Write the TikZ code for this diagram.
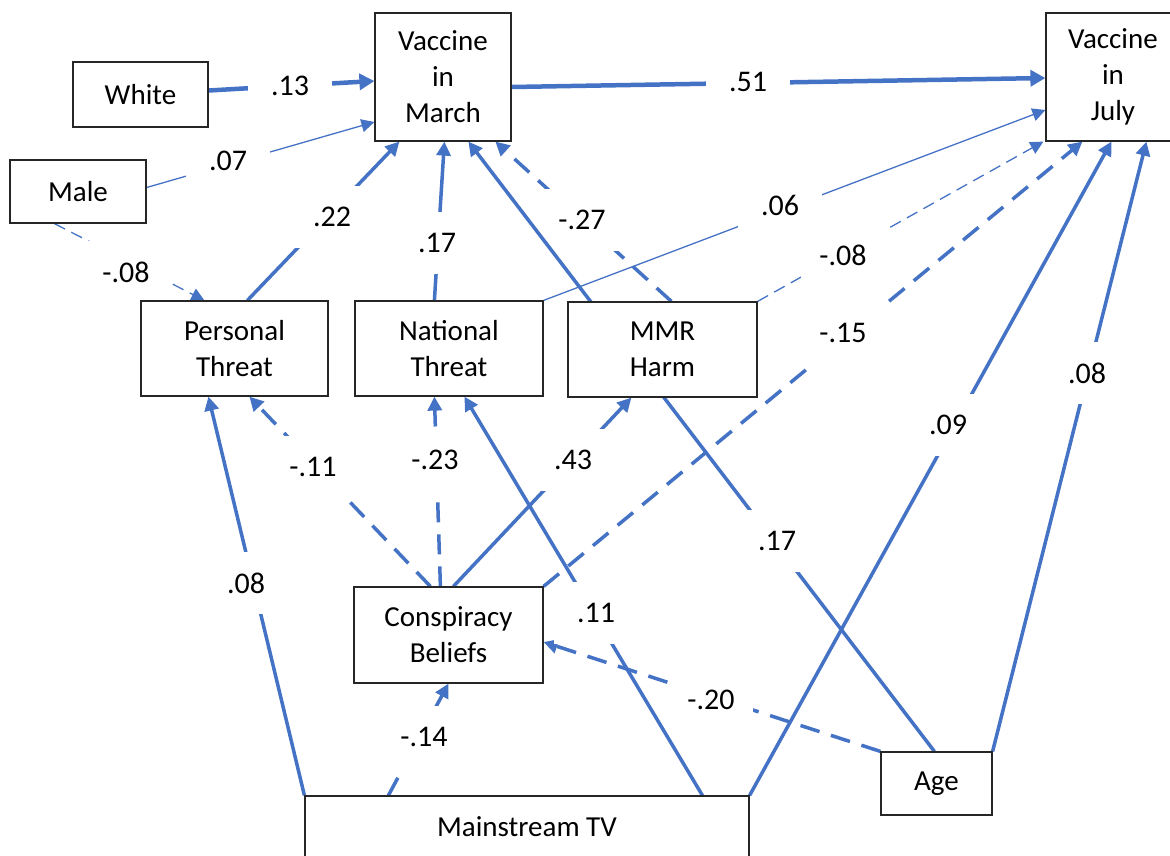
\documentclass[tikz,border=0pt]{standalone}
\usepackage{fontspec}
\setmainfont{Carlito}
\usetikzlibrary{positioning,calc,arrows.meta}
\definecolor{pathblue}{HTML}{4472C4}
\pgfdeclarelayer{back}
\pgfsetlayers{back,main}
\tikzset{
	var/.style={draw=black!85,line width=1.2pt,fill=white,align=center,inner sep=0pt,
		font=\fontsize{29}{36}\selectfont},
	coef/.style={fill=white,inner sep=0pt,minimum width=84pt,minimum height=62pt,
		font=\fontsize{30}{36}\selectfont},
	eff/.style={draw=pathblue,line width=3.5pt,-{Triangle[length=14pt,width=14pt]}},
	strong/.style={eff,line width=4.5pt,-{Triangle[length=15pt,width=16pt]}},
	weak/.style={eff,line width=1.3pt,-{Triangle[length=13pt,width=13pt]}},
	neg/.style={dash pattern=on 20pt off 12pt},
	wneg/.style={dash pattern=on 12pt off 7pt}
}

\begin{document}
\begin{tikzpicture}[x=1pt,y=-1pt]
	\useasboundingbox (0,0) rectangle (1170,855);
	
	\node[var,minimum width=136pt,minimum height=128pt] (mar) at (443,77) {Vaccine\\in\\March};
	\node[var,minimum width=134pt,minimum height=128pt] (jul) at (1113,77) {Vaccine\\in\\July};
	\node[var,minimum width=135pt,minimum height=65pt] (whi) at (140.5,94.5) {White};
	\node[var,minimum width=136pt,minimum height=63pt] (mal) at (78,191.5) {Male};
	\node[var,minimum width=187pt,minimum height=95pt] (per) at (234.5,348.5) {Personal\\Threat};
	\node[var,minimum width=188pt,minimum height=95pt] (nat) at (449,348.5) {National\\Threat};
	\node[var,minimum width=189pt,minimum height=95pt] (mmr) at (662.5,349.5) {MMR\\Harm};
	\node[var,minimum width=189pt,minimum height=96pt] (con) at (448.5,635) {Conspiracy\\Beliefs};
	\node[var,minimum width=111pt,minimum height=63pt] (age) at (936.5,783.5) {Age};
	\node[var,minimum width=444pt,minimum height=62pt] (tv) at (527,827) {Mainstream TV};
	
	\begin{pgfonlayer}{back}
	% paths into March
	\draw[strong] ($(whi.east)+(0,-4)$) -- ($(mar.west)+(0,4)$);
	\draw[weak] ($(mal.east)+(0,-4)$) -- ($(mar.west)+(0,45)$);
	\draw[eff] ($(per.north west)+(107,0)$) -- ($(mar.south west)+(25,0)$);
	\draw[eff] ($(nat.north west)+(80,0)$) -- ($(mar.south west)+(70,0)$);
	\draw[eff,neg] ($(mmr.north west)+(104,0)$) -- ($(mar.south west)+(121,0)$);
	% paths into July
	\draw[strong] ($(mar.east)+(0,10)$) -- ($(jul.west)+(0,1)$);
	\draw[weak] (nat.north east) -- ($(jul.west)+(0,33)$);
	\draw[weak,wneg] (mmr.north east) -- ($(jul.south west)+(-2,0)$);
	\draw[eff,neg] (con.north east) -- ($(jul.south west)+(37,0)$);
	\draw[eff] (tv.north east) -- ($(jul.south west)+(66,0)$);
	\draw[eff] (age.north east) -- ($(jul.south west)+(101,0)$);
	% threats and beliefs
	\draw[weak,wneg] ($(mal.south west)+(45,0)$) -- ($(per.north west)+(64,0)$);
	\draw[eff,neg] ($(con.north west)+(77,0)$) -- ($(per.south west)+(109,0)$);
	\draw[eff,neg] ($(con.north west)+(87,0)$) -- ($(nat.south west)+(80,0)$);
	\draw[eff] ($(con.north west)+(100,0)$) -- ($(mmr.south west)+(64,0)$);
	\draw[eff] (tv.north west) -- ($(per.south west)+(68,0)$);
	\draw[eff] ($(tv.north west)+(398,0)$) -- ($(nat.south west)+(110,0)$);
	\draw[eff,neg] ($(tv.north west)+(84,0)$) -- ($(con.south west)+(95,0)$);
	\draw[eff,neg] (age.north west) -- ($(con.east)+(0,7)$);
	
	\node[coef] (c13) at (290,86) {.13};
	\node[coef] (c07) at (228,161) {.07};
	\node[coef] (c51) at (748,82) {.51};
	\node[coef] (cm08) at (126,272) {-.08};
	\node[coef] (c22) at (332,217) {.22};
	\node[coef] (c17) at (437,243) {.17};
	\node[coef] (cm27) at (582,220) {-.27};
	\node[coef] (c06) at (780,205) {.06};
	\node[coef] (cm08j) at (843,255) {-.08};
	\node[coef] (cm15) at (843,333) {-.15};
	\node[coef] (c09) at (948,425) {.09};
	\node[coef] (c08j) at (1087,373) {.08};
	\node[coef] (cm11) at (313,467) {-.11};
	\node[coef] (cm23) at (435,460) {-.23};
	\node[coef] (c43) at (573,460) {.43};
	\node[coef] (c08p) at (246,583) {.08};
	\node[coef] (c11) at (596,613) {.11};
	\node[coef] (cm20) at (711,700) {-.20};
	\node[coef] (cm14) at (424,737) {-.14};
	
	% age to March runs behind MMR Harm
	\draw[eff] ($(age.north west)+(54,0)$) -- ($(mar.south west)+(94,0)$);
	\node[coef] (c17a) at (777,541) {.17};
	\end{pgfonlayer}
\end{tikzpicture}
\end{document}
